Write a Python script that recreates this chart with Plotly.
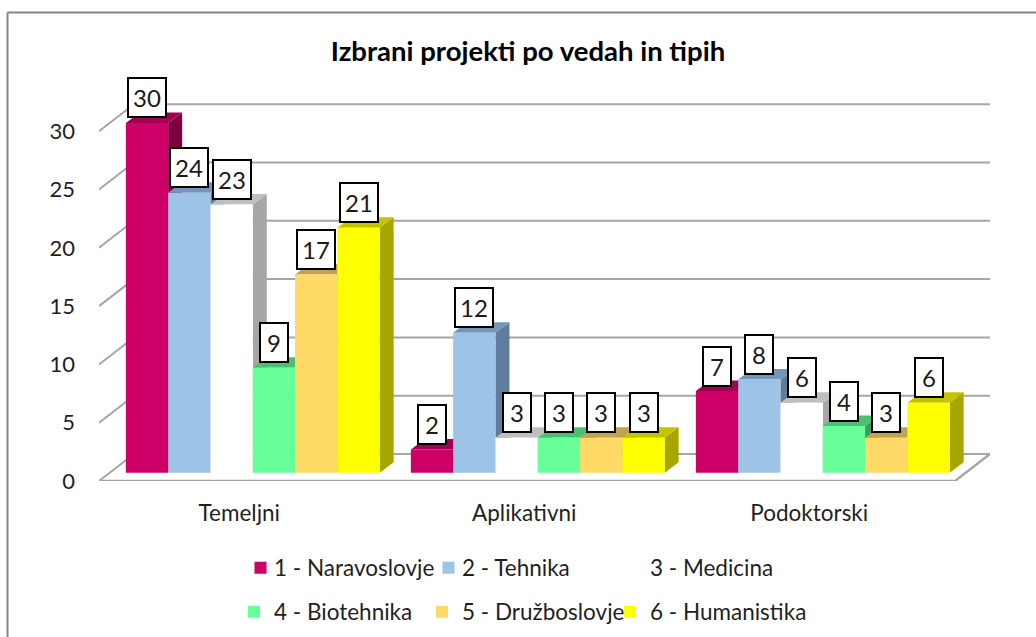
import plotly.graph_objects as go

categories = ["Temeljni", "Aplikativni", "Podoktorski"]
series_names = ["1 - Naravoslovje", "2 - Tehnika", "3 - Medicina",
                "4 - Biotehnika", "5 - Družboslovje", "6 - Humanistika"]
naravoslovje = [30, 2, 7]
tehnika = [24, 12, 8]
medicina = [23, 3, 6]
biotehnika = [9, 3, 4]
druzboslovje = [17, 3, 3]
humanistika = [21, 3, 6]
y_ticks = [0, 5, 10, 15, 20, 25, 30]
title_text = "Izbrani projekti po vedah in tipih"

series_values = [naravoslovje, tehnika, medicina, biotehnika, druzboslovje, humanistika]
front_colors = ["#CC0066", "#9DC3E6", "#FFFFFF", "#66FF99", "#FFD966", "#FFFF00"]
top_colors = ["#A30052", "#7296B8", "#BFBFBF", "#4DBF73", "#BFA34D", "#C4C400"]
side_colors = ["#7F0040", "#5F7C9C", "#A6A6A6", "#409960", "#A08840", "#A6A600"]

FONT = "Lato, Carlito, Calibri, sans-serif"
W, H = 1036, 637
L, R, T, FLOOR = 99, 990, 70, 481
PX_PER_UNIT = 11.66
PX_PER_GROUP = 285.0
GROUP0_PX = 252.75
BAR_W = 42.3 / PX_PER_GROUP
X_MIN = (L - GROUP0_PX) / PX_PER_GROUP
X_MAX = (R - GROUP0_PX) / PX_PER_GROUP
Y_MAX = (FLOOR - T) / PX_PER_UNIT
WALL_DX, WALL_DY = 35 / PX_PER_GROUP, 27 / PX_PER_UNIT
BAR_DX, BAR_DY = 14 / PX_PER_GROUP, 10.5 / PX_PER_UNIT
BASE = 8.3 / PX_PER_UNIT
GRID = "#A6A6A6"

fig = go.Figure()


def poly(xs, ys, color):
    fig.add_trace(go.Scatter(x=xs, y=ys, mode="lines", fill="toself", fillcolor=color,
                             line=dict(width=0, color=color), showlegend=False,
                             hoverinfo="skip", cliponaxis=False))


def line(xs, ys, width=2):
    fig.add_trace(go.Scatter(x=xs, y=ys, mode="lines", line=dict(color=GRID, width=width),
                             showlegend=False, hoverinfo="skip", cliponaxis=False))


# Walls: gridlines on the back wall plus the slanted tick leading to each of them
for t in y_ticks:
    line([X_MIN, X_MIN + WALL_DX, X_MAX], [t, t + WALL_DY, t + WALL_DY])
# Floor front edge
line([X_MIN, X_MAX - WALL_DX, X_MAX], [0, 0, WALL_DY], 2.4)


# Side and top faces, left to right
def bar_x0(g, s):
    return g + (s - 3) * BAR_W


for g in range(len(categories)):
    for s, vals in enumerate(series_values):
        v = vals[g] + BASE
        x0 = bar_x0(g, s)
        x1 = x0 + BAR_W
        poly([x1, x1 + BAR_DX, x1 + BAR_DX, x1, x1],
             [BASE, BASE + BAR_DY, v + BAR_DY, v, BASE], side_colors[s])
        poly([x0, x0 + BAR_DX, x1 + BAR_DX, x1, x0],
             [v, v + BAR_DY, v + BAR_DY, v, v], top_colors[s])

# Front faces on an overlaid pair of axes, so they sit above the sides
for s, (name, vals) in enumerate(zip(series_names, series_values)):
    fig.add_trace(go.Bar(x=list(range(len(categories))), y=vals, base=[BASE] * len(vals),
                         name=name, marker=dict(color=front_colors[s], line=dict(width=0)),
                         xaxis="x2", yaxis="y2", legend="legend" if s < 3 else "legend2",
                         legendwidth=175 if s % 3 == 2 else 143,
                         hoverinfo="skip"))

annotations = []
for g in range(len(categories)):
    for s, vals in enumerate(series_values):
        annotations.append(dict(
            x=bar_x0(g, s) + BAR_W / 2, y=vals[g] + BASE, xref="x", yref="y", yshift=25,
            text=str(vals[g]), showarrow=False, bgcolor="#FFFFFF", bordercolor="#000000",
            borderwidth=2, borderpad=1, width=34 if vals[g] >= 10 else 24, height=35,
            font=dict(family=FONT, size=24, color="#1A1A1A"), align="center", valign="middle"))


def paper_x(px):
    return (px - L) / (R - L)


def paper_y(px):
    return (FLOOR - px) / (FLOOR - T)


frame = dict(color="#868686", width=2)
shapes = [
    dict(type="line", xref="paper", yref="paper", x0=paper_x(7.5), x1=paper_x(7.5),
         y0=paper_y(12.5), y1=paper_y(H + 2), line=frame),
    dict(type="line", xref="paper", yref="paper", x0=paper_x(7.5), x1=paper_x(W + 2),
         y0=paper_y(12.5), y1=paper_y(12.5), line=frame),
]

legend_common = dict(orientation="h", xanchor="left", yanchor="middle", traceorder="normal",
                     font=dict(family=FONT, size=22.5, color="#1F1F1F"),
                     bgcolor="rgba(0,0,0,0)", itemclick=False, itemdoubleclick=False)

fig.update_layout(
    width=W, height=H, margin=dict(l=L, r=W - R, t=T, b=H - FLOOR, autoexpand=False),
    paper_bgcolor="#FFFFFF", plot_bgcolor="rgba(0,0,0,0)",
    barmode="group", bargap=1 - 6 * BAR_W, bargroupgap=0,
    title=dict(text=title_text, x=528 / W, xanchor="center", y=1 - 51 / H, yanchor="middle",
               font=dict(family=FONT, size=27.5, color="#000000", weight="bold")),
    xaxis=dict(range=[X_MIN, X_MAX], tickmode="array",
               tickvals=[g - 13.5 / PX_PER_GROUP for g in range(len(categories))],
               ticktext=categories, showgrid=False, zeroline=False, showline=False, ticks="",
               ticklabelstandoff=16, tickfont=dict(family=FONT, size=22.5, color="#1F1F1F")),
    yaxis=dict(range=[0, Y_MAX], tickmode="array", tickvals=y_ticks,
               ticktext=[str(t) for t in y_ticks], showgrid=False, zeroline=False,
               showline=False, ticks="", ticklabelstandoff=23,
               tickfont=dict(family=FONT, size=22, color="#1F1F1F")),
    xaxis2=dict(range=[X_MIN, X_MAX], overlaying="x", matches="x", visible=False),
    yaxis2=dict(range=[0, Y_MAX], overlaying="y", matches="y", visible=False),
    legend=dict(x=paper_x(234), y=paper_y(568), **legend_common),
    legend2=dict(x=paper_x(234), y=paper_y(612), **legend_common),
    annotations=annotations, shapes=shapes,
)

post = ("document.body.style.margin='0';"
        "document.querySelectorAll('.legend .layers').forEach(function(g){"
        "g.setAttribute('transform','translate(6.5,0)');});")
fig.write_html("out.html", post_script=post, config={"displayModeBar": False})
